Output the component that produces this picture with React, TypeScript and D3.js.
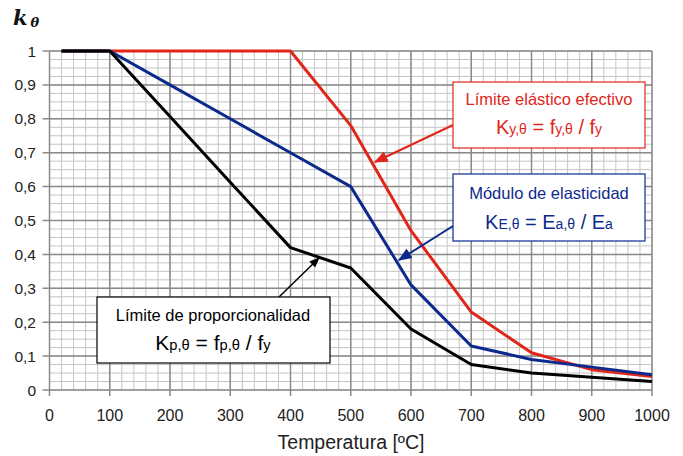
import React from "react";
import * as d3 from "d3";

// temperatures (ºC) and reduction factors
const temps = [20, 100, 200, 300, 400, 500, 600, 700, 800, 900, 1000];
const kY = [1, 1, 1, 1, 1, 0.78, 0.47, 0.23, 0.11, 0.06, 0.04];
const kE = [1, 1, 0.9, 0.8, 0.7, 0.6, 0.31, 0.13, 0.09, 0.0675, 0.045];
const kP = [1, 1, 0.807, 0.613, 0.42, 0.36, 0.18, 0.075, 0.05, 0.0375, 0.025];

const xTicks = [0, 100, 200, 300, 400, 500, 600, 700, 800, 900, 1000];
const yTicks = [0, 0.1, 0.2, 0.3, 0.4, 0.5, 0.6, 0.7, 0.8, 0.9, 1];

const RED = "#e0261a";
const BLUE = "#0c2a8c";
const BLACK = "#000";
const FONT = "Liberation Sans, Arial, sans-serif";

export default function App() {
  const width = 683;
  const height = 456;

  const x = d3.scaleLinear().domain([0, 1000]).range([49.5, 652]);
  const y = d3.scaleLinear().domain([0, 1]).range([390, 51]);

  const line = (vals: number[]) =>
    d3.line<number>()
      .x((_, i) => x(temps[i]))
      .y((d) => y(d))(vals) as string;

  const minorX = d3.range(0, 1001, 20);
  const minorY = d3.range(0, 1.0001, 0.025);

  // formula: big letter + small subscript pieces
  const formula = (parts: [string, boolean][], cx: number, cy: number, color: string, size = 20) => (
    <text x={cx} y={cy} textAnchor="middle" fill={color} fontFamily={FONT} fontSize={size}>
      {parts.map(([t, sub], i) =>
        sub ? (
          <tspan key={i} fontSize={size * 0.7}>{t}</tspan>
        ) : (
          <tspan key={i}>{t}</tspan>
        )
      )}
    </text>
  );

  return (
    <svg width={width} height={height} style={{ position: "absolute", left: 0, top: 0, background: "#fff" }}>
      <defs>
        {[["ar", RED], ["ab", BLUE], ["ak", BLACK]].map(([id, c]) => (
          <marker key={id} id={id} viewBox="0 0 10 10" refX="9" refY="5" markerWidth="7" markerHeight="7" orient="auto">
            <path d="M0,1 L10,5 L0,9 z" fill={c} />
          </marker>
        ))}
      </defs>

      {/* minor grid */}
      {minorX.map((t) => (
        <line key={"mx" + t} x1={x(t)} x2={x(t)} y1={y(1)} y2={y(0)} stroke="#c4c4c4" strokeWidth={1} />
      ))}
      {minorY.map((t) => (
        <line key={"my" + t} x1={x(0)} x2={x(1000)} y1={y(t)} y2={y(t)} stroke="#c4c4c4" strokeWidth={1} />
      ))}
      {/* major grid */}
      {xTicks.map((t) => (
        <line key={"gx" + t} x1={x(t)} x2={x(t)} y1={y(1)} y2={y(0) + 6} stroke="#8a8a8a" strokeWidth={1.5} />
      ))}
      {yTicks.map((t) => (
        <line key={"gy" + t} x1={x(0) - 7} x2={x(1000)} y1={y(t)} y2={y(t)} stroke="#8a8a8a" strokeWidth={1.5} />
      ))}

      {/* tick labels */}
      {yTicks.map((t) => (
        <text key={"ly" + t} x={36} y={y(t) + 5.5} textAnchor="end" fontFamily={FONT} fontSize={15.5} fill="#222">
          {t === 0 || t === 1 ? String(t) : d3.format(".1f")(t).replace(".", ",")}
        </text>
      ))}
      {xTicks.map((t) => (
        <text key={"lx" + t} x={x(t)} y={421} textAnchor="middle" fontFamily={FONT} fontSize={16} fill="#222">
          {t}
        </text>
      ))}

      <text x={351} y={449} textAnchor="middle" fontFamily={FONT} fontSize={19.5} fill="#222">
        Temperatura [ºC]
      </text>
      <text x={13} y={25} fontFamily="DejaVu Serif, serif" fontStyle="italic" fontWeight="bold" fontSize={21} fill="#111">
        k<tspan fontSize={13} dx={3} dy={2}>θ</tspan>
      </text>

      {/* curves */}
      <path d={line(kY)} fill="none" stroke={RED} strokeWidth={3} strokeLinejoin="round" />
      <path d={line(kE)} fill="none" stroke={BLUE} strokeWidth={3} strokeLinejoin="round" />
      <path d={line(kP)} fill="none" stroke={BLACK} strokeWidth={3} strokeLinejoin="round" />

      {/* red box */}
      <line x1={453} y1={125} x2={375} y2={162} stroke={RED} strokeWidth={2} markerEnd="url(#ar)" />
      <rect x={453} y={82} width={192} height={66} fill="#fff" stroke={RED} strokeWidth={1.2} />
      <text x={549} y={105} textAnchor="middle" fill={RED} fontFamily={FONT} fontSize={16.5}>
        Límite elástico efectivo
      </text>
      {formula([["K", false], ["y,θ", true], [" = f", false], ["y,θ", true], [" / f", false], ["y", true]], 549, 134, RED)}

      {/* blue box */}
      <line x1={453} y1={226} x2={399} y2={260} stroke={BLUE} strokeWidth={2} markerEnd="url(#ab)" />
      <rect x={453} y={174} width={192} height={67} fill="#fff" stroke={BLUE} strokeWidth={1.2} />
      <text x={549} y={199} textAnchor="middle" fill={BLUE} fontFamily={FONT} fontSize={16.5}>
        Módulo de elasticidad
      </text>
      {formula([["K", false], ["E,θ", true], [" = E", false], ["a,θ", true], [" / E", false], ["a", true]], 549, 229, BLUE)}

      {/* black box */}
      <line x1={279} y1={297} x2={319} y2={258} stroke={BLACK} strokeWidth={1.5} markerEnd="url(#ak)" />
      <rect x={97} y={297} width={233} height={66} fill="#fff" stroke={BLACK} strokeWidth={1.2} />
      <text x={213} y={321} textAnchor="middle" fill={BLACK} fontFamily={FONT} fontSize={16.5}>
        Límite de proporcionalidad
      </text>
      {formula([["K", false], ["p,θ", true], [" = f", false], ["p,θ", true], [" / f", false], ["y", true]], 213, 350, BLACK, 21)}
    </svg>
  );
}
